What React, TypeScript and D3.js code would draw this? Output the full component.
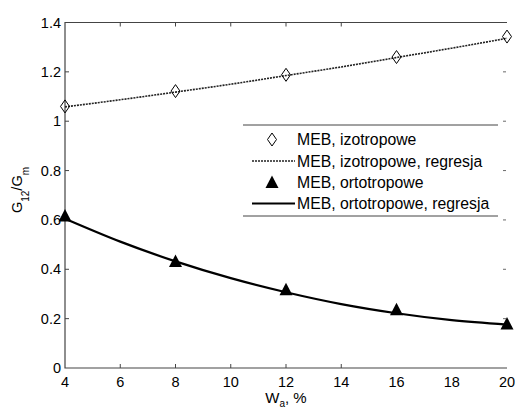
import { useEffect, useRef } from 'react';
import * as d3 from 'd3';

const wa = [4, 8, 12, 16, 20];
const izoPoints = [1.06, 1.122, 1.188, 1.26, 1.343];
const ortoPoints = [0.612, 0.428, 0.313, 0.232, 0.174];

const regX = [4, 6, 8, 10, 12, 14, 16, 18, 20];
const izoRegression = [1.058, 1.087, 1.118, 1.15, 1.185, 1.22, 1.258, 1.296, 1.336];
const ortoRegression = [0.605, 0.512, 0.432, 0.364, 0.307, 0.259, 0.222, 0.194, 0.176];

const xTicks = [4, 6, 8, 10, 12, 14, 16, 18, 20];
const yTicks = [0, 0.2, 0.4, 0.6, 0.8, 1, 1.2, 1.4];
const legendLabels = [
  'MEB, izotropowe',
  'MEB, izotropowe, regresja',
  'MEB, ortotropowe',
  'MEB, ortotropowe, regresja',
];

export default function App() {
  const svgRef = useRef<SVGSVGElement>(null);

  useEffect(() => {
    const svg = d3.select(svgRef.current);
    svg.selectAll('*').remove();

    const left = 65, right = 507, top = 22.5, bottom = 368;
    const x = d3.scaleLinear().domain([4, 20]).range([left, right]);
    const y = d3.scaleLinear().domain([0, 1.4]).range([bottom, top]);
    const font = 'Liberation Sans, Arial, sans-serif';
    const axisCol = '#444';

    // frame (left, top, bottom)
    svg.append('path')
      .attr('d', `M${right},${top}H${left}V${bottom}H${right}`)
      .attr('fill', 'none').attr('stroke', axisCol).attr('stroke-width', 1.2);

    // ticks
    xTicks.slice(1, -1).forEach(t => {
      if (t > 14) return;
      svg.append('line').attr('x1', x(t)).attr('x2', x(t)).attr('y1', bottom).attr('y2', bottom - 4)
        .attr('stroke', axisCol);
      svg.append('line').attr('x1', x(t)).attr('x2', x(t)).attr('y1', top).attr('y2', top + 4)
        .attr('stroke', axisCol);
    });
    yTicks.slice(1, -1).forEach(t => {
      svg.append('line').attr('x1', left).attr('x2', left + 4).attr('y1', y(t)).attr('y2', y(t))
        .attr('stroke', axisCol);
      svg.append('line').attr('x1', right - 4).attr('x2', right - 1).attr('y1', y(t)).attr('y2', y(t))
        .attr('stroke', axisCol).attr('stroke-width', 0.8);
    });

    // tick labels
    svg.append('g').selectAll('text').data(xTicks).enter().append('text')
      .attr('x', d => x(d)).attr('y', bottom + 19)
      .attr('text-anchor', 'middle').attr('font-family', font).attr('font-size', 14.5)
      .text(d => d);
    svg.append('g').selectAll('text').data(yTicks).enter().append('text')
      .attr('x', left - 4).attr('y', d => y(d) + 5)
      .attr('text-anchor', 'end').attr('font-family', font).attr('font-size', 14.5)
      .text(d => d);

    // axis labels
    const xl = svg.append('text').attr('x', 286).attr('y', 403)
      .attr('text-anchor', 'middle').attr('font-family', font).attr('font-size', 15);
    xl.append('tspan').text('W');
    xl.append('tspan').attr('font-size', 10).attr('dy', 4).text('a');
    xl.append('tspan').attr('dy', -4).text(', %');

    const yl = svg.append('text').attr('transform', 'translate(22,190) rotate(-90)')
      .attr('text-anchor', 'middle').attr('font-family', font).attr('font-size', 14.5);
    yl.append('tspan').text('G');
    yl.append('tspan').attr('font-size', 10).attr('dy', 7).text('12');
    yl.append('tspan').attr('dy', -7).text('/G');
    yl.append('tspan').attr('font-size', 10).attr('dy', 7).text('m');

    const line = d3.line<number>().x((_, i) => x(regX[i])).y(d => y(d)).curve(d3.curveMonotoneX);

    svg.append('path').datum(izoRegression).attr('d', line)
      .attr('fill', 'none').attr('stroke', '#222').attr('stroke-width', 1.6)
      .attr('stroke-dasharray', '2,1');
    svg.append('path').datum(ortoRegression).attr('d', line)
      .attr('fill', 'none').attr('stroke', '#000').attr('stroke-width', 2.2);

    const diamond = (cx: number, cy: number) => `M${cx},${cy - 6.5}L${cx + 4.5},${cy}L${cx},${cy + 6.5}L${cx - 4.5},${cy}Z`;
    const triangle = (cx: number, cy: number) => `M${cx},${cy - 8}L${cx + 6.5},${cy + 4.5}L${cx - 6.5},${cy + 4.5}Z`;

    svg.append('g').selectAll('path').data(izoPoints).enter().append('path')
      .attr('d', (d, i) => diamond(x(wa[i]), y(d)))
      .attr('fill', 'none').attr('stroke', '#000').attr('stroke-width', 1);
    svg.append('g').selectAll('path').data(ortoPoints).enter().append('path')
      .attr('d', (d, i) => triangle(x(wa[i]), y(d)))
      .attr('fill', '#000');

    // legend
    const lg = svg.append('g');
    lg.append('rect').attr('x', 243).attr('y', 125).attr('width', 255).attr('height', 91).attr('fill', '#fff');
    lg.append('line').attr('x1', 243).attr('x2', 498).attr('y1', 125).attr('y2', 125).attr('stroke', axisCol);
    lg.append('line').attr('x1', 243).attr('x2', 498).attr('y1', 216).attr('y2', 216).attr('stroke', axisCol);
    const rows = [139.5, 161, 182.5, 203.5];
    legendLabels.forEach((lab, i) => {
      const ry = rows[i];
      if (i === 0) lg.append('path').attr('d', diamond(272, ry)).attr('fill', 'none').attr('stroke', '#000');
      if (i === 2) lg.append('path').attr('d', triangle(272, ry + 1)).attr('fill', '#000');
      if (i === 1) lg.append('line').attr('x1', 252).attr('x2', 295).attr('y1', ry).attr('y2', ry)
        .attr('stroke', '#222').attr('stroke-width', 1.6).attr('stroke-dasharray', '2,1');
      if (i === 3) lg.append('line').attr('x1', 252).attr('x2', 295).attr('y1', ry).attr('y2', ry)
        .attr('stroke', '#000').attr('stroke-width', 2.2);
      lg.append('text').attr('x', 297).attr('y', ry + 5.5)
        .attr('font-family', font).attr('font-size', 15.8).text(lab);
    });
  }, []);

  return (
    <svg ref={svgRef} width={515} height={410}
      style={{ position: 'absolute', left: 0, top: 0, background: '#fff' }} />
  );
}
